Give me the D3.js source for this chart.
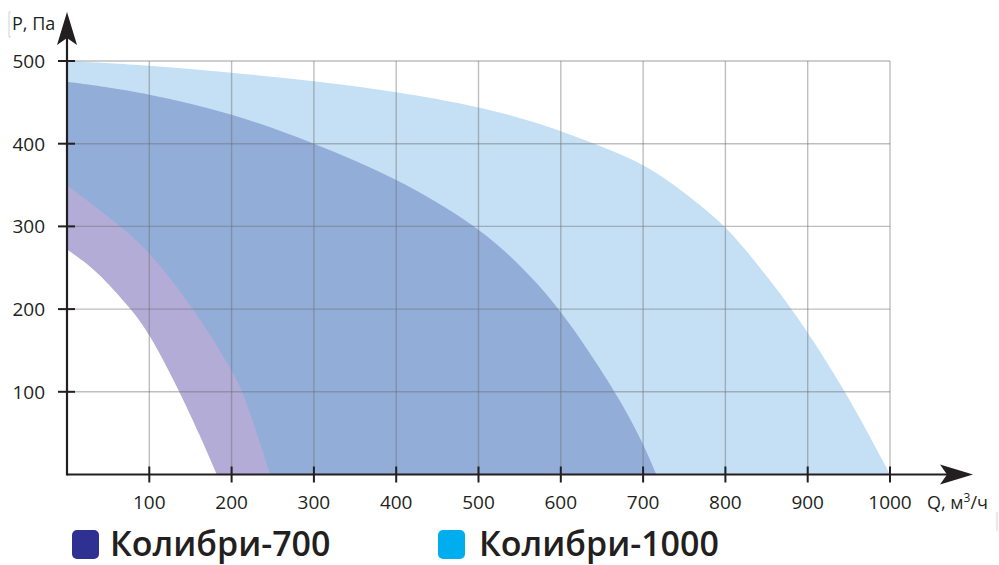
<!DOCTYPE html>
<html>
<head>
<meta charset="utf-8">
<script src="https://cdn.jsdelivr.net/npm/d3@7/dist/d3.min.js"></script>
<style>
body { margin: 0; background: #fff; }
text { font-family: "Open Sans", sans-serif; fill: #231f20; }
</style>
</head>
<body>
<div id="chart"></div>
<script>
// axis ticks
var qTicks = [100, 200, 300, 400, 500, 600, 700, 800, 900, 1000];
var pTicks = [100, 200, 300, 400, 500];

// Колибри-1000, max curve
var k1000Q = [0, 100, 200, 300, 400, 500, 575, 641, 700, 737, 769, 800, 826, 842, 882, 947, 1000];
var k1000P = [500, 495, 486, 476, 463, 445, 425, 400, 376, 351, 326, 300, 270, 250, 200, 100, 0];

// Колибри-700, max curve
var k700Q = [0, 100, 200, 300, 400, 500, 554, 600, 667, 700, 716];
var k700P = [475, 461, 437, 401, 359, 300, 250, 200, 100, 38, 0];

// Колибри-700, min speed band (outer / inner edge)
var bandOutQ = [0, 66, 100, 155, 200, 214, 232, 247];
var bandOutP = [350, 300, 270, 200, 127, 100, 46, 0];
var bandInQ = [0, 35, 78, 100, 137, 162, 182];
var bandInP = [272, 248, 200, 171, 100, 46, 0];

var legendNames = ["Колибри-700", "Колибри-1000"];
var legendColors = ["#2e3192", "#00aeef"];

var W = 999, H = 565;
var svg = d3.select("#chart").append("svg").attr("width", W).attr("height", H);

var x = d3.scaleLinear().domain([0, 1000]).range([67, 890]);
var y = d3.scaleLinear().domain([0, 500]).range([474.5, 61]);

function pts (qs, ps) {
	return qs.map(function (q, i) { return [q, ps[i]]; });
}

// outline of the curve, closed along the axes
var line = d3.line()
	.x(function (d) { return x(d[0]); })
	.y(function (d) { return y(d[1]); })
	.curve(d3.curveBasis);

function region (qs, ps) {
	return line(pts(qs, ps)) + "L" + x(0) + "," + y(0) + "Z";
}

// fills, back to front
svg.append("path").attr("d", region(k1000Q, k1000P)).attr("fill", "#c5e0f4");
svg.append("path").attr("d", region(k700Q, k700P)).attr("fill", "#92add8");
svg.append("path").attr("d", region(bandOutQ, bandOutP)).attr("fill", "#b2acd6");
svg.append("path").attr("d", region(bandInQ, bandInP)).attr("fill", "#fff");

// grid
var grid = svg.append("g").attr("stroke", "#6d6e71").attr("stroke-opacity", 0.45).attr("stroke-width", 1.4);
grid.selectAll("line.v").data(qTicks).enter().append("line")
	.attr("class", "v")
	.attr("x1", function (d) { return x(d); }).attr("x2", function (d) { return x(d); })
	.attr("y1", y(500)).attr("y2", y(0));
grid.selectAll("line.h").data(pTicks).enter().append("line")
	.attr("class", "h")
	.attr("x1", x(0)).attr("x2", x(1000))
	.attr("y1", function (d) { return y(d); }).attr("y2", function (d) { return y(d); });

// axes
var ink = "#231f20";
svg.append("line").attr("x1", x(0)).attr("x2", 948).attr("y1", y(0)).attr("y2", y(0))
	.attr("stroke", ink).attr("stroke-width", 2.2);
svg.append("line").attr("x1", x(0)).attr("x2", x(0)).attr("y1", y(0) + 1).attr("y2", 38)
	.attr("stroke", ink).attr("stroke-width", 2.2);
// arrow heads
svg.append("path").attr("d", "M67,12 L77,45 L67,38 L57,45 Z").attr("fill", ink);
svg.append("path").attr("d", "M973,474.5 L940,484.5 L947,474.5 L940,464.5 Z").attr("fill", ink);

// tick marks
svg.selectAll("line.xt").data(qTicks).enter().append("line")
	.attr("x1", function (d) { return x(d); }).attr("x2", function (d) { return x(d); })
	.attr("y1", y(0) - 8).attr("y2", y(0) + 8)
	.attr("stroke", ink).attr("stroke-width", 2);
svg.selectAll("line.yt").data(pTicks).enter().append("line")
	.attr("x1", x(0) - 9).attr("x2", x(0) + 8)
	.attr("y1", function (d) { return y(d); }).attr("y2", function (d) { return y(d); })
	.attr("stroke", ink).attr("stroke-width", 2);

// tick labels
svg.selectAll("text.xl").data(qTicks).enter().append("text")
	.attr("x", function (d) { return x(d); }).attr("y", 509)
	.attr("text-anchor", "middle").attr("font-size", 19)
	.text(function (d) { return d; });
svg.selectAll("text.yl").data(pTicks).enter().append("text")
	.attr("x", 45).attr("y", function (d) { return y(d) + 7; })
	.attr("text-anchor", "end").attr("font-size", 19)
	.text(function (d) { return d; });

// axis titles
svg.append("text").attr("x", 12).attr("y", 30).attr("font-size", 18).text("P, Па");
var qt = svg.append("text").attr("x", 927).attr("y", 509).attr("font-size", 18);
qt.append("tspan").text("Q, м");
qt.append("tspan").attr("font-size", 12).attr("dy", -7).text("3");
qt.append("tspan").attr("dy", 7).text("/ч");

// faint frame marks left from the source
svg.append("path").attr("d", "M11,12 L9,12 L9,37 L11,37").attr("fill", "none").attr("stroke", "#d0d2d3").attr("stroke-width", 1);
svg.append("line").attr("x1", 997).attr("x2", 997).attr("y1", 512).attr("y2", 531).attr("stroke", "#d0d2d3").attr("stroke-width", 1);

// legend
var legX = [72, 438], legTX = [110, 479];
var leg = svg.selectAll("g.leg").data(legendNames).enter().append("g");
leg.append("rect")
	.attr("x", function (d, i) { return legX[i]; }).attr("y", 530)
	.attr("width", 27).attr("height", 29).attr("rx", 5)
	.attr("fill", function (d, i) { return legendColors[i]; });
leg.append("text")
	.attr("x", function (d, i) { return legTX[i]; }).attr("y", 556)
	.attr("font-size", 34).attr("font-weight", 600)
	.text(function (d) { return d; });
</script>
</body>
</html>
